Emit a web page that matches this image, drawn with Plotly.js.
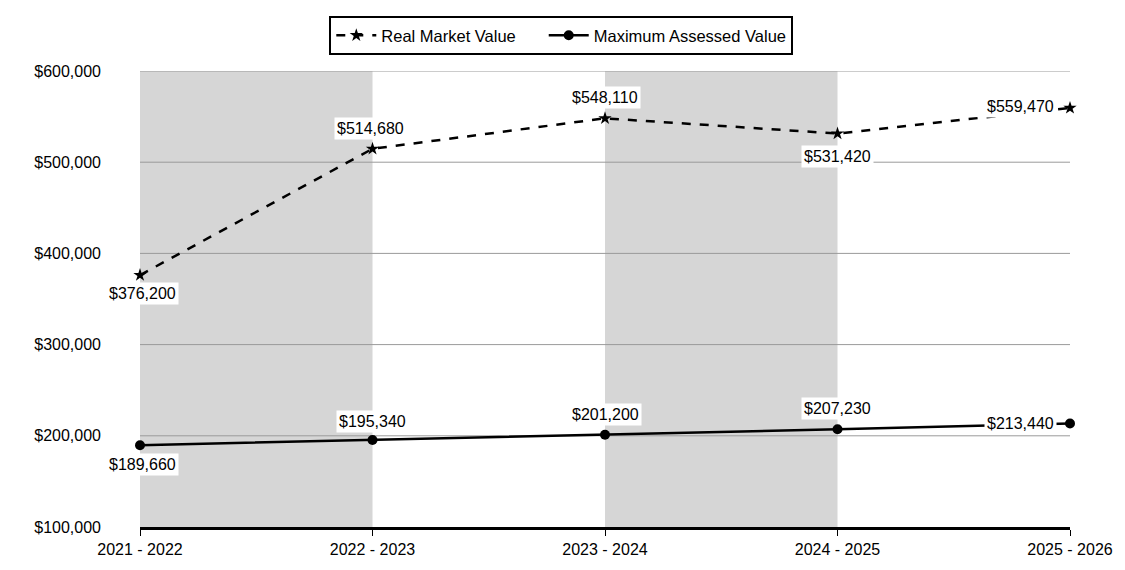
<!DOCTYPE html>
<html><head><meta charset="utf-8">
<script src="https://cdn.plot.ly/plotly-3.0.1.min.js"></script>
<style>body{margin:0;background:#fff}#c{width:1125px;height:570px}</style>
</head><body><div id="c"></div>
<script>
const categories = ["2021 - 2022","2022 - 2023","2023 - 2024","2024 - 2025","2025 - 2026"];
const realMarketValue = [376200, 514680, 548110, 531420, 559470];
const maxAssessedValue = [189660, 195340, 201200, 207230, 213440];
const yTicks = [100000, 200000, 300000, 400000, 500000, 600000];
const shadedBands = [[0,1],[2,3]];
// label placement per point: [xshift, yshift]
const rmvLabelPos = [[2,-18],[-2,20],[0,21],[0,-23],[-50,1]];
const mavLabelPos = [[2,-19],[0,19],[0,20],[0,21],[-50,0]];

const xIdx = categories.map((_, i) => i);
const fmt = v => '$' + v.toLocaleString('en-US');
const FONT = 'Liberation Sans, Arial';
const pad = '\u00a0\u00a0\u00a0\u00a0\u00a0';

const traces = [
  {x: xIdx, y: realMarketValue, name: 'Real Market Value' + pad, mode: 'lines+markers',
   line: {color: '#000', width: 2.5, dash: 'dash'}, marker: {symbol: 'star', size: 10, color: '#000'}, cliponaxis: false},
  {x: xIdx, y: maxAssessedValue, name: 'Maximum Assessed Value', mode: 'lines+markers',
   line: {color: '#000', width: 2.5}, marker: {symbol: 'circle', size: 10, color: '#000'}, cliponaxis: false}
];

const annotations = [];
realMarketValue.forEach((v, i) => annotations.push({x: i, y: v, xref: 'x', yref: 'y', text: fmt(v), showarrow: false,
  xshift: rmvLabelPos[i][0], yshift: rmvLabelPos[i][1], bgcolor: '#fff', borderpad: 2, font: {size: 16, color: '#000', family: FONT}}));
maxAssessedValue.forEach((v, i) => annotations.push({x: i, y: v, xref: 'x', yref: 'y', text: fmt(v), showarrow: false,
  xshift: mavLabelPos[i][0], yshift: mavLabelPos[i][1], bgcolor: '#fff', borderpad: 2, font: {size: 16, color: '#000', family: FONT}}));

const shapes = shadedBands.map(b => ({type: 'rect', xref: 'x', yref: 'paper', x0: b[0], x1: b[1], y0: 0, y1: 1,
  fillcolor: '#d6d6d6', line: {width: 0}, layer: 'below'}));
yTicks.slice(1).forEach(t => shapes.push({type: 'line', xref: 'paper', yref: 'y', x0: 0, x1: 1, y0: t, y1: t,
  line: {color: '#9a9a9a', width: 1}, layer: 'below'}));

const layout = {
  width: 1125, height: 570,
  margin: {l: 140, r: 55, t: 71, b: 43},
  paper_bgcolor: '#fff', plot_bgcolor: 'rgba(0,0,0,0)',
  font: {family: FONT, size: 16, color: '#000'},
  showlegend: true,
  legend: {orientation: 'h', x: 0.453, xanchor: 'center', y: 1.035, yanchor: 'bottom',
    bordercolor: '#000', borderwidth: 2, bgcolor: '#fff', font: {size: 16.5}, itemwidth: 40},
  xaxis: {range: [0, 4], tickvals: xIdx, ticktext: categories, showgrid: false, zeroline: false,
    showline: true, linecolor: '#000', linewidth: 2.5, ticks: 'outside', ticklen: 6, tickcolor: '#000', tickwidth: 1,
    tickfont: {size: 16}},
  yaxis: {range: [100000, 600000], tickvals: yTicks, ticktext: yTicks.map(fmt), showgrid: false,
    zeroline: false, showline: false, ticks: '', ticklabelstandoff: 38,
    tickfont: {size: 16}},
  shapes: shapes,
  annotations: annotations
};
Plotly.newPlot('c', traces, layout, {displayModeBar: false, staticPlot: true});
</script></body></html>
